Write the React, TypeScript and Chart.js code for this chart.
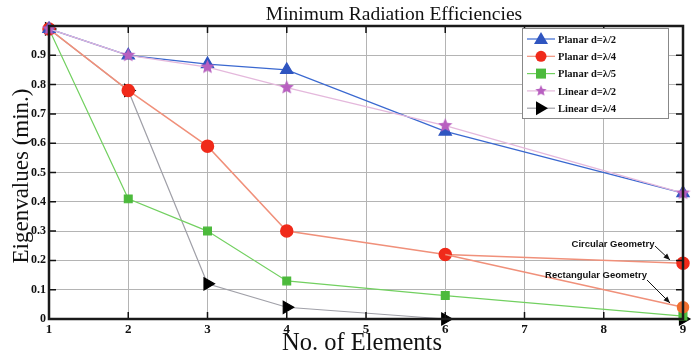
import React, { useEffect, useRef } from "react";
import { Chart, registerables } from "chart.js";

Chart.register(...registerables);

const elements = [1, 2, 3, 4, 6, 9];
const planarHalf = [0.99, 0.9, 0.87, 0.85, 0.64, 0.43];
const planarQuarter = [0.99, 0.78, 0.59, 0.3, 0.22, 0.19];
const planarQuarterRectX = [6, 9];
const planarQuarterRect = [0.22, 0.04];
const planarFifth = [0.99, 0.41, 0.3, 0.13, 0.08, 0.01];
const linearHalf = [0.99, 0.9, 0.86, 0.79, 0.66, 0.43];
const linearQuarter = [0.99, 0.78, 0.12, 0.04, 0.0, 0.0];
const xTicks = [1, 2, 3, 4, 5, 6, 7, 8, 9];
const yTicks = [0, 0.1, 0.2, 0.3, 0.4, 0.5, 0.6, 0.7, 0.8, 0.9, 1];
const legendLabels = ["Planar d=λ/2", "Planar d=λ/4", "Planar d=λ/5", "Linear d=λ/2", "Linear d=λ/4"];

function starCanvas(size: number, color: string) {
  const c = document.createElement("canvas");
  c.width = size;
  c.height = size;
  const g = c.getContext("2d")!;
  const cx = size / 2, cy = size / 2, R = size / 2, r = R * 0.45;
  g.beginPath();
  for (let i = 0; i < 10; i++) {
    const a = -Math.PI / 2 + (i * Math.PI) / 5;
    const rad = i % 2 === 0 ? R : r;
    const x = cx + rad * Math.cos(a), y = cy + rad * Math.sin(a);
    if (i === 0) g.moveTo(x, y); else g.lineTo(x, y);
  }
  g.closePath();
  g.fillStyle = color;
  g.fill();
  return c;
}

const pts = (xs: number[], ys: number[]) => xs.map((x, i) => ({ x, y: ys[i] }));

export default function App() {
  const ref = useRef<HTMLCanvasElement>(null);
  useEffect(() => {
    document.body.style.margin = "0";
    const star = starCanvas(15, "#b860c0");
    const blue = "#2f55c0", blueLine = "#3a68d0";
    const red = "#f02a1a", redLine = "#f0907a";
    const green = "#4cba3c", greenLine = "#72d060";
    const pinkLine = "#e4b8dc";
    const black = "#000", greyLine = "#a0a0a8";

    const customDraw = {
      id: "custom",
      afterDraw(chart: any) {
        const ctx = chart.ctx as CanvasRenderingContext2D;
        const a = chart.chartArea;
        const xs = chart.scales.x, ys = chart.scales.y;
        ctx.save();
        // inward ticks on all borders
        ctx.strokeStyle = "#111";
        ctx.lineWidth = 1.5;
        for (const t of xTicks) {
          const px = xs.getPixelForValue(t);
          ctx.beginPath();
          ctx.moveTo(px, a.top); ctx.lineTo(px, a.top + 7);
          ctx.moveTo(px, a.bottom); ctx.lineTo(px, a.bottom - 7);
          ctx.stroke();
        }
        for (const t of yTicks) {
          const py = ys.getPixelForValue(t);
          ctx.beginPath();
          ctx.moveTo(a.left, py); ctx.lineTo(a.left + 7, py);
          ctx.moveTo(a.right, py); ctx.lineTo(a.right - 7, py);
          ctx.stroke();
        }
        // border
        ctx.lineWidth = 2.5;
        ctx.strokeStyle = "#1a1a1a";
        ctx.strokeRect(a.left, a.top, a.right - a.left, a.bottom - a.top);

        // titles
        ctx.fillStyle = "#111";
        ctx.textAlign = "center";
        ctx.textBaseline = "alphabetic";
        ctx.font = '19.5px "Liberation Serif"';
        ctx.fillText("Minimum Radiation Efficiencies", 394, 20);
        ctx.font = '24.5px "Liberation Serif"';
        ctx.fillText("No. of Elements", 362, 350);
        ctx.font = '23px "Liberation Serif"';
        ctx.save();
        ctx.translate(28, 176);
        ctx.rotate(-Math.PI / 2);
        ctx.fillText("Eigenvalues (min.)", 0, 0);
        ctx.restore();

        // annotations
        ctx.font = 'bold 9.5px "Liberation Sans"';
        ctx.textAlign = "center";
        ctx.fillText("Circular Geometry", 613, 247);
        ctx.fillText("Rectangular Geometry", 596, 278);
        const arrow = (x1: number, y1: number, x2: number, y2: number) => {
          ctx.strokeStyle = "#111";
          ctx.lineWidth = 1;
          ctx.beginPath(); ctx.moveTo(x1, y1); ctx.lineTo(x2, y2); ctx.stroke();
          const ang = Math.atan2(y2 - y1, x2 - x1);
          ctx.beginPath();
          ctx.moveTo(x2, y2);
          ctx.lineTo(x2 - 7 * Math.cos(ang - 0.4), y2 - 7 * Math.sin(ang - 0.4));
          ctx.lineTo(x2 - 7 * Math.cos(ang + 0.4), y2 - 7 * Math.sin(ang + 0.4));
          ctx.closePath();
          ctx.fillStyle = "#111";
          ctx.fill();
        };
        arrow(655, 246, 670, 260);
        arrow(647, 280, 670, 303);

        // legend
        const lx = 522, ly = 28, lw = 146, lh = 90;
        ctx.fillStyle = "#fff";
        ctx.fillRect(lx, ly, lw, lh);
        ctx.strokeStyle = "#888";
        ctx.lineWidth = 1;
        ctx.strokeRect(lx + 0.5, ly + 0.5, lw, lh);
        const lineCols = [blueLine, redLine, greenLine, pinkLine, greyLine];
        ctx.font = 'bold 10.5px "Liberation Serif"';
        ctx.textAlign = "left";
        ctx.textBaseline = "middle";
        for (let i = 0; i < 5; i++) {
          const y = ly + 11 + i * 17.3;
          ctx.strokeStyle = lineCols[i];
          ctx.lineWidth = 1.2;
          ctx.beginPath(); ctx.moveTo(lx + 5, y); ctx.lineTo(lx + 33, y); ctx.stroke();
          const mx = lx + 19;
          if (i === 0) {
            ctx.fillStyle = blue;
            ctx.beginPath(); ctx.moveTo(mx, y - 7); ctx.lineTo(mx + 7, y + 5); ctx.lineTo(mx - 7, y + 5); ctx.closePath(); ctx.fill();
          } else if (i === 1) {
            ctx.fillStyle = red;
            ctx.beginPath(); ctx.arc(mx, y, 5.5, 0, Math.PI * 2); ctx.fill();
          } else if (i === 2) {
            ctx.fillStyle = green;
            ctx.fillRect(mx - 5, y - 5, 10, 10);
          } else if (i === 3) {
            ctx.drawImage(star, mx - 6, y - 6, 12, 12);
          } else {
            ctx.fillStyle = black;
            ctx.beginPath(); ctx.moveTo(mx - 5, y - 7); ctx.lineTo(mx + 7, y); ctx.lineTo(mx - 5, y + 7); ctx.closePath(); ctx.fill();
          }
          ctx.fillStyle = "#111";
          ctx.fillText(legendLabels[i], lx + 36, y + 1);
        }
        ctx.restore();
      },
    };

    const chart = new Chart(ref.current!, {
      type: "line",
      data: {
        datasets: [
          {
            label: legendLabels[3],
            data: pts(elements, linearHalf),
            borderColor: pinkLine,
            borderWidth: 1.3,
            pointStyle: star as any,
            pointRadius: 7,
          },
          {
            label: legendLabels[0],
            data: pts(elements, planarHalf),
            borderColor: blueLine,
            borderWidth: 1.3,
            pointStyle: "triangle",
            pointRadius: 7,
            pointBackgroundColor: blue,
            pointBorderColor: blue,
          },
          {
            label: "rect",
            data: pts(planarQuarterRectX, planarQuarterRect),
            borderColor: redLine,
            borderWidth: 1.5,
            pointRadius: [0, 5.5] as any,
            pointBackgroundColor: "#f07030",
            pointBorderColor: "#f07030",
          },
          {
            label: legendLabels[1],
            data: pts(elements, planarQuarter),
            borderColor: redLine,
            borderWidth: 1.5,
            pointStyle: "circle",
            pointRadius: 6,
            pointBackgroundColor: red,
            pointBorderColor: red,
          },
          {
            label: legendLabels[2],
            data: pts(elements, planarFifth),
            borderColor: greenLine,
            borderWidth: 1.2,
            pointStyle: "rect",
            pointRadius: 5.5,
            pointBackgroundColor: green,
            pointBorderColor: green,
          },
          {
            label: legendLabels[4],
            data: pts(elements, linearQuarter),
            borderColor: greyLine,
            borderWidth: 1.2,
            pointStyle: "triangle",
            pointRotation: 90,
            pointRadius: 7,
            pointBackgroundColor: black,
            pointBorderColor: black,
          },
        ],
      },
      options: {
        animation: false,
        responsive: false,
        clip: false as any,
        layout: { padding: { top: 26, right: 11, left: 0, bottom: 0 } },
        plugins: { legend: { display: false }, tooltip: { enabled: false }, title: { display: false } },
        elements: { line: { tension: 0 }, point: { borderWidth: 1 } },
        scales: {
          x: {
            type: "linear",
            min: 1,
            max: 9,
            afterFit: (s: any) => { s.height = 34; },
            afterBuildTicks: (s: any) => { s.ticks = xTicks.map((v) => ({ value: v })); },
            grid: { color: "#b4b4b4", lineWidth: 1, drawTicks: false },
            border: { display: false },
            ticks: {
              color: "#111",
              font: { family: "Liberation Serif", weight: "bold", size: 13 },
              padding: 3,
              maxRotation: 0,
              autoSkip: false,
            },
          },
          y: {
            min: 0,
            max: 1,
            afterFit: (s: any) => { s.width = 49; },
            afterBuildTicks: (s: any) => { s.ticks = yTicks.map((v) => ({ value: v })); },
            grid: { color: "#b4b4b4", lineWidth: 1, drawTicks: false },
            border: { display: false },
            ticks: {
              color: "#111",
              font: { family: "Liberation Serif", weight: "bold", size: 12 },
              padding: 3,
              callback: (v: any) => (v === 1 ? "" : String(Math.round(v * 10) / 10)),
            },
          },
        },
      },
      plugins: [customDraw],
    });
    return () => chart.destroy();
  }, []);
  return <canvas ref={ref} width={694} height={353} style={{ display: "block", background: "#fff" }} />;
}
